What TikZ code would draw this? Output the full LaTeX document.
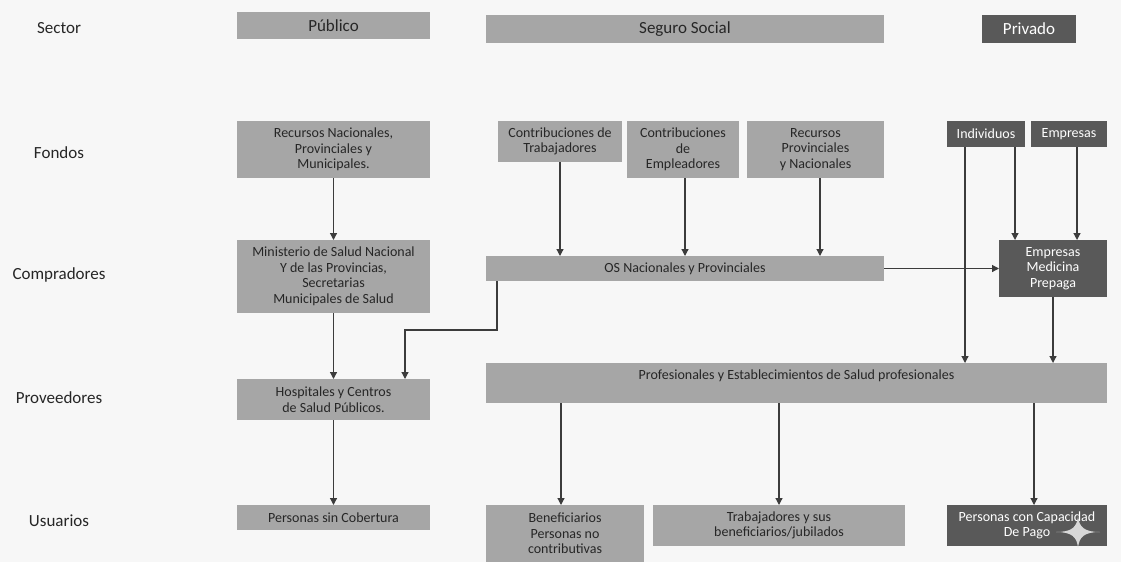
\documentclass[tikz,border=0pt]{standalone}
\usepackage{fontspec}
\setmainfont{Carlito}
\usetikzlibrary{arrows.meta}
\definecolor{lboxc}{HTML}{A6A6A6}
\definecolor{dboxc}{HTML}{595959}
\definecolor{txtc}{HTML}{262626}
\definecolor{linec}{HTML}{3C3C3C}
\definecolor{bgc}{HTML}{F7F7F7}
\definecolor{sparkc}{HTML}{D8D8D8}
\begin{document}
\begin{tikzpicture}[x=1pt,y=-1pt,
  bx/.style={inner sep=0pt, outer sep=0pt, align=center, font=\fontsize{14}{15.5}\selectfont},
  lightbox/.style={bx, fill=lboxc, text=txtc},
  darkbox/.style={bx, fill=dboxc, text=white},
  hd/.style={font=\fontsize{17}{19}\selectfont},
  lab/.style={text=txtc, font=\fontsize{17}{20}\selectfont, anchor=center},
  arr/.style={draw=linec, line width=1.2pt, -{Triangle[length=7pt,width=7pt]}},
  spark/.style={fill=sparkc}]
\fill[bgc] (0,0) rectangle (1121,562);
\useasboundingbox (0,0) rectangle (1121,562);

% row labels
\node[lab] (lsec) at (59,28) {Sector};
\node[lab] (lfon) at (59,153) {Fondos};
\node[lab] (lcom) at (59,275) {Compradores};
\node[lab] (lpro) at (59,398) {Proveedores};
\node[lab] (lusu) at (59,521) {Usuarios};

% sector headers
\node[lightbox, hd, minimum width=193, minimum height=27] (pub) at (333.5,25.5) {Público};
\node[lightbox, hd, minimum width=398, minimum height=28] (seg) at (685,29) {Seguro Social};
\node[darkbox, hd, minimum width=94, minimum height=28] (priv) at (1029,29) {Privado};

% fondos
\node[lightbox, minimum width=193, minimum height=57] (rn) at (333.5,149.5) {Recursos Nacionales,\\Provinciales y\\Municipales.};
\node[lightbox, minimum width=124, minimum height=41] (ct) at (560,141.5) {Contribuciones de\\Trabajadores};
\node[lightbox, minimum width=112, minimum height=57] (ce) at (683,149.5) {Contribuciones\\de\\Empleadores};
\node[lightbox, minimum width=137, minimum height=57] (rp) at (815.5,149.5) {Recursos\\Provinciales\\y Nacionales};
\node[darkbox, minimum width=78, minimum height=26] (ind) at (986,134) {Individuos};
\node[darkbox, minimum width=76, minimum height=26] (emp) at (1069,134) {Empresas};

% compradores
\node[lightbox, minimum width=193, minimum height=73] (min) at (333.5,276.5) {Ministerio de Salud Nacional\\Y de las Provincias,\\Secretarias\\Municipales de Salud};
\node[lightbox, minimum width=398, minimum height=25] (os) at (685,268.5) {OS Nacionales y Provinciales};
\node[darkbox, minimum width=108, minimum height=57] (emp2) at (1053,268.5) {Empresas\\Medicina\\Prepaga};

% proveedores
\node[lightbox, minimum width=193, minimum height=41] (hosp) at (333.5,399.5) {Hospitales y Centros\\de Salud Públicos.};
\node[lightbox, minimum width=621, minimum height=40] (prof) at (796.5,383) {};
\node[bx, text=txtc, yshift=7pt] (proft) at (prof.center) {Profesionales y Establecimientos de Salud profesionales};

% usuarios
\node[lightbox, minimum width=193, minimum height=25] (psc) at (333.5,517.5) {Personas sin Cobertura};
\node[lightbox, minimum width=158, minimum height=57] (ben) at (565,533.5) {Beneficiarios\\Personas no\\contributivas};
\node[lightbox, minimum width=252, minimum height=41] (trab) at (779,525.5) {Trabajadores y sus\\beneficiarios/jubilados};
\node[darkbox, minimum width=160, minimum height=41] (pcp) at (1027,525.5) {Personas con Capacidad\\De Pago};

% watermark sparkle
\fill[spark] (1078,516) .. controls (1079,527) and (1084,532) .. (1100,532)
  .. controls (1084,532) and (1079,537) .. (1078,548)
  .. controls (1077,537) and (1072,532) .. (1056,532)
  .. controls (1072,532) and (1077,527) .. (1078,516) -- cycle;

% helper coordinates
\coordinate (ce1) at ([xshift=2pt]ce.south);
\coordinate (rp1) at ([xshift=4.5pt]rp.south);
\coordinate (i1) at ([xshift=-21pt]ind.south);
\coordinate (i2) at ([xshift=29pt]ind.south);
\coordinate (e1) at ([xshift=8pt]emp.south);
\coordinate (o1) at ([xshift=11pt]os.south west);
\coordinate (h1) at ([xshift=71.5pt]hosp.north);
\coordinate (p1) at ([xshift=-4pt]ben.north);
\coordinate (p2) at (trab.north);
\coordinate (p3) at ([xshift=7pt]pcp.north);

% connectors
\draw[arr] (rn.south) -- (min.north);
\draw[arr] (min.south) -- (hosp.north);
\draw[arr] (hosp.south) -- (psc.north);
\draw[arr] (ct.south) -- (ct.south |- os.north);
\draw[arr] (ce1) -- (ce1 |- os.north);
\draw[arr] (rp1) -- (rp1 |- os.north);
\draw[arr] (o1) -- ++(0,49) -| (h1);
\draw[arr] (os.east) -- (emp2.west);
\draw[arr] (i1) -- (i1 |- prof.north);
\draw[arr] (i2) -- (i2 |- emp2.north);
\draw[arr] (e1) -- (e1 |- emp2.north);
\draw[arr] (emp2.south) -- (emp2.south |- prof.north);
\draw[arr] (p1 |- prof.south) -- (p1);
\draw[arr] (p2 |- prof.south) -- (p2);
\draw[arr] (p3 |- prof.south) -- (p3);
\end{tikzpicture}
\end{document}
